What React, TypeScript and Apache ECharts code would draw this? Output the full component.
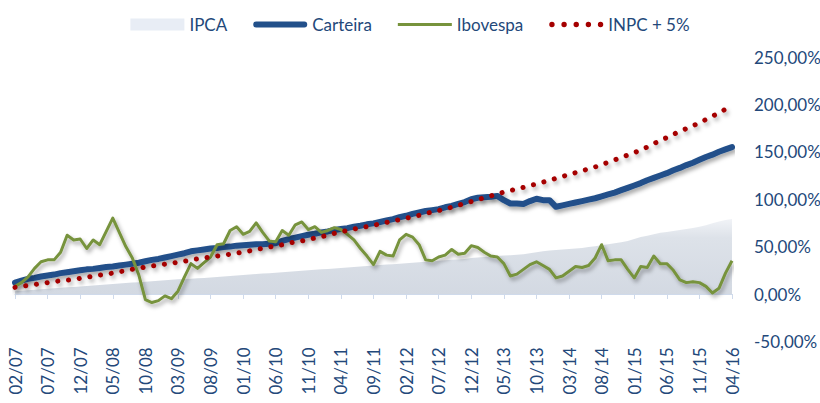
import React, { useEffect, useRef } from "react";
import * as echarts from "echarts";

// Monthly categories 02/07 .. 04/16
const START_YEAR = 2007;
const START_MONTH = 2;
const MONTH_COUNT = 111;
const months: string[] = [];
for (let k = 0; k < MONTH_COUNT; k++) {
  const m = ((START_MONTH - 1 + k) % 12) + 1;
  const y = START_YEAR + Math.floor((START_MONTH - 1 + k) / 12);
  months.push(String(m).padStart(2, "0") + "/" + String(y % 100).padStart(2, "0"));
}

const yTicks = [-50, 0, 50, 100, 150, 200, 250];

const ipca = [
  3, 3.5, 4, 4.5, 5, 5.5, 6, 6.5, 7, 7.5, 8, 8.5, 9, 9.5, 10, 10.5, 11, 11.5, 12, 12.5,
  13, 13.5, 14, 14.5, 15, 15.5, 15.8, 16, 16.5, 17, 17.5, 18, 18.5, 19, 19.5, 20, 20.5, 21, 21.5, 22,
  22.5, 23, 23.5, 24, 24.5, 25, 25.5, 26, 26.5, 27, 27.5, 28, 28.5, 29, 29.5, 30, 30.5, 31, 31.5, 32,
  32.5, 33, 33.5, 34, 34.5, 35, 35.5, 36, 36.5, 37, 38, 38.5, 39, 39.5, 40, 40.5, 41, 41.5, 42, 43,
  44, 45, 46, 46.5, 47, 47.5, 48, 48.5, 49.5, 50.5, 51.5, 52.5, 53.5, 54.5, 56, 58, 60, 61.5, 63, 64.5,
  65.5, 66.5, 67.5, 68.5, 69.5, 71, 72.5, 74.5, 76.5, 78, 79,
];

const carteira = [
  12, 14, 16, 17, 18.5, 19.5, 20.5, 22, 23, 24, 25, 26, 26.5, 27.5, 28.5, 29, 30, 31, 32, 33,
  34.5, 36, 37, 38.5, 40, 41.5, 43, 45, 46, 47, 48, 48.5, 49.5, 50, 51, 51.5, 52, 52.5, 52.5, 53,
  53.5, 56, 58, 59.5, 61, 62.5, 63.5, 65, 66, 67.5, 68.5, 69.5, 71, 72, 73.5, 74.5, 76, 77.5, 79, 81,
  82.5, 84.5, 86, 87.5, 88.5, 89.5, 91.5, 93, 95, 97, 100, 101.5, 102, 102.5, 103.5, 99, 95.5, 95.5, 95, 98,
  100.5, 99, 99, 92, 93.5, 95, 96.5, 98, 99.5, 101, 103, 105, 107, 109.5, 112, 114.5, 117, 120, 122.5, 125,
  127.5, 130.5, 133, 136, 138.5, 141.5, 144.5, 147, 150, 152.5, 155,
];

const ibovespa = [
  8, 12, 18, 27, 34, 36, 36, 44, 62, 57, 58, 48, 57, 52, 66, 80, 65, 50, 38, 20,
  -6, -9, -7, -2, -5, 3, 18, 32, 27, 33, 39, 52, 53, 67, 71, 63, 66, 75, 65, 56,
  55, 67, 62, 73, 76, 68, 71, 65, 67, 70, 68, 63, 57, 48, 40, 31, 45, 41, 40, 57,
  63, 60, 52, 36, 35, 39, 41, 47, 42, 43, 51, 49, 44, 40, 39, 32, 19, 21, 26, 31,
  34, 30, 26, 17, 19, 24, 29, 28, 30, 38, 52, 35, 36, 36, 26, 17, 29, 28, 40, 32,
  32, 25, 15, 12, 13, 12, 8, 1, 6, 22, 35,
];

const inpc5 = [
  7, 8, 9, 10, 11, 12, 13, 14, 14.5, 15.5, 16.5, 17.5, 19, 20, 21, 22, 23.5, 24.5, 26, 27,
  28.5, 29.5, 30.5, 31.5, 32.5, 33.5, 34.5, 36, 37, 38, 39, 40, 41, 42, 43, 44.5, 45.5, 47, 48, 49.5,
  50.5, 52, 53.5, 55, 56, 57.5, 59, 60.5, 62, 64, 65.5, 67, 68.5, 70, 71, 72.5, 74, 75.5, 77, 78.5,
  80, 81.5, 83, 85, 86.5, 88, 90, 91.5, 93.5, 95.5, 97.5, 99.5, 101.5, 103.5, 105.5, 107.5, 109, 111, 112.5, 114.5,
  116, 118, 120, 122, 124, 126, 128, 130, 132, 134, 136.5, 139, 141.5, 144, 146.5, 149, 152, 155, 158.5, 162,
  165, 168.5, 171.5, 174.5, 177.5, 180.5, 184, 187.5, 191, 195, 199,
];

const TEXT_COLOR = "#23487A";
const FONT = "Lato";
const C_CARTEIRA = "#22508A";
const C_IBOV = "#77933C";
const C_INPC = "#A50000";
const C_IPCA_LEGEND = "#E8EDF5";

// legend icons
const ICON_CARTEIRA = "path://M3,0 H53 A3,3 0 0 1 53,6 H3 A3,3 0 0 1 3,0 Z";
const ICON_IBOV = "path://M0,0 H54 V3 H0 Z";
const dotPath = (cx: number, r: number) =>
  `M${cx - r},${r} a${r},${r} 0 1,0 ${2 * r},0 a${r},${r} 0 1,0 ${-2 * r},0 Z `;
const ICON_INPC =
  "path://" + [2.4, 13.2, 24, 34.8, 45.6].map((c) => dotPath(c, 2.4)).join("");

export default function App() {
  const ref = useRef<HTMLDivElement>(null);
  useEffect(() => {
    if (!ref.current) return;
    const chart = echarts.init(ref.current, null, { renderer: "svg" });
    const shadow = {
      shadowColor: "rgba(0,0,0,0.35)",
      shadowBlur: 4,
      shadowOffsetX: 2,
      shadowOffsetY: 3,
    };
    chart.setOption({
      animation: false,
      backgroundColor: "#ffffff",
      textStyle: { fontFamily: FONT },
      legend: {
        top: 11,
        left: "center",
        itemWidth: 54,
        itemHeight: 12,
        itemGap: 26,
        textStyle: { color: TEXT_COLOR, fontSize: 17, fontFamily: FONT },
        data: [
          { name: "IPCA", icon: "rect", itemStyle: { color: C_IPCA_LEGEND } },
          { name: "Carteira", icon: ICON_CARTEIRA, itemStyle: { color: C_CARTEIRA } },
          { name: "Ibovespa", icon: ICON_IBOV, itemStyle: { color: C_IBOV } },
          { name: "INPC + 5%", icon: ICON_INPC, itemStyle: { color: C_INPC } },
        ],
      },
      grid: {
        left: 15,
        right: 88,
        top: 57,
        bottom: 61.6,
        containLabel: false,
        outerBoundsMode: "none",
      },
      xAxis: {
        type: "category",
        data: months,
        boundaryGap: false,
        axisLine: { onZero: true, lineStyle: { color: "#CFDAEB", width: 1 } },
        axisTick: { show: true, interval: 4, length: 5, lineStyle: { color: "#CFDAEB" } },
        axisLabel: {
          interval: 4,
          rotate: 90,
          margin: 6,
          color: TEXT_COLOR,
          fontSize: 17,
          fontFamily: FONT,
        },
        splitLine: { show: false },
      },
      yAxis: {
        type: "value",
        position: "right",
        min: yTicks[0],
        max: yTicks[yTicks.length - 1],
        interval: 50,
        axisLine: { show: false },
        axisTick: { show: false },
        splitLine: { show: false },
        axisLabel: {
          margin: 22,
          color: TEXT_COLOR,
          fontSize: 17,
          fontFamily: FONT,
          formatter: (v: number) => v.toFixed(2).replace(".", ",") + "%",
        },
      },
      series: [
        {
          name: "IPCA",
          type: "line",
          data: ipca,
          symbol: "none",
          lineStyle: { width: 0, opacity: 0 },
          itemStyle: { color: C_IPCA_LEGEND },
          areaStyle: {
            opacity: 1,
            color: new echarts.graphic.LinearGradient(0, 0, 0, 1, [
              { offset: 0, color: "#F1F3F7" },
              { offset: 0.25, color: "#DDE2E9" },
              { offset: 1, color: "#D3D9E2" },
            ]),
          },
          z: 1,
        },
        {
          name: "Carteira",
          type: "line",
          data: carteira,
          symbol: "none",
          itemStyle: { color: C_CARTEIRA },
          lineStyle: { color: C_CARTEIRA, width: 6, cap: "round", join: "round", ...shadow },
          z: 2,
        },
        {
          name: "Ibovespa",
          type: "line",
          data: ibovespa,
          symbol: "none",
          itemStyle: { color: C_IBOV },
          lineStyle: { color: C_IBOV, width: 3, join: "round", ...shadow },
          z: 3,
        },
        {
          name: "INPC + 5%",
          type: "line",
          data: inpc5,
          symbol: "none",
          itemStyle: { color: C_INPC },
          lineStyle: {
            color: C_INPC,
            width: 5,
            type: [0.1, 10.7],
            cap: "round",
            ...shadow,
          },
          z: 4,
        },
      ],
    });
    return () => chart.dispose();
  }, []);
  return (
    <div
      ref={ref}
      style={{ position: "absolute", left: 0, top: 0, width: 820, height: 403 }}
    />
  );
}
